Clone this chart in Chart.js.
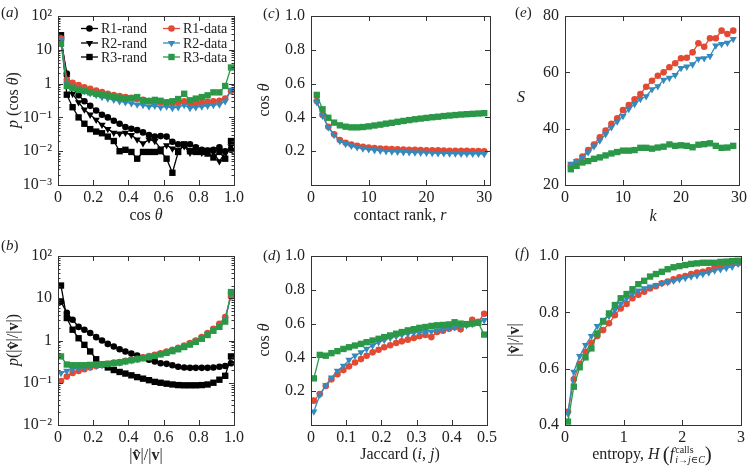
<!DOCTYPE html>
<html>
<head>
<meta charset="utf-8">
<script src="https://cdn.jsdelivr.net/npm/chart.js@4.4.0/dist/chart.umd.min.js"></script>
<style>
body { margin: 0; background: #fff; width: 750px; height: 473px; overflow: hidden; position: relative;
       font-family: "Liberation Serif", "DejaVu Serif", serif; color: #222; }
canvas { position: absolute; }
.lbl { position: absolute; font-size: 16px; white-space: nowrap; transform: translate(-50%, -50%); z-index: 5; }
.rot { transform: translate(-50%, -50%) rotate(-90deg); }
.tag { position: absolute; font-size: 15px; transform: translateY(-50%); z-index: 5; }
.ss { display: inline-flex; flex-direction: column; font-size: 10px; line-height: 10px; vertical-align: middle; margin-left: 1px; }
.big { font-size: 21px; vertical-align: -2px; }
</style>
</head>
<body>
<script>
// ---- data ----
const seriesNames = ['R1-rand', 'R2-rand', 'R3-rand', 'R1-data', 'R2-data', 'R3-data'];

// (a) p(cos theta), 30 bins
const cosBins = [0.017, 0.05, 0.083, 0.117, 0.15, 0.183, 0.217, 0.25, 0.283, 0.317, 0.35, 0.383, 0.417, 0.45, 0.483,
                 0.517, 0.55, 0.583, 0.617, 0.65, 0.683, 0.717, 0.75, 0.783, 0.817, 0.85, 0.883, 0.917, 0.95, 0.983];
const aR1rand = [20, 2.0, 0.75, 0.45, 0.3, 0.22, 0.16, 0.12, 0.1, 0.08, 0.065, 0.052, 0.046, 0.042, 0.036,
                 0.03, 0.027, 0.028, 0.027, 0.019, 0.016, 0.015, 0.016, 0.013, 0.011, 0.0105, 0.011, 0.013, 0.01, 0.011];
const aR2rand = [22, 1.5, 0.5, 0.28, 0.17, 0.12, 0.085, 0.06, 0.045, 0.035, 0.033, 0.035, 0.03, 0.022, 0.017,
                 0.022, 0.02, 0.012, 0.015, 0.012, 0.011, 0.014, 0.009, 0.013, 0.009, 0.011, 0.009, 0.005, 0.009, 0.014];
const aR3rand = [27, 0.47, 0.2, 0.1, 0.065, 0.045, 0.038, 0.034, 0.027, 0.02, 0.01, 0.011, 0.0095, 0.006, 0.0095,
                 0.0095, 0.0095, 0.01, 0.006, 0.0023, 0.0095, 0.016, 0.01, 0.0095, 0.0095, 0.0085, 0.0065, 0.0095, 0.006, 0.02];
const aR1data = [22, 1.3, 1.05, 0.9, 0.78, 0.7, 0.62, 0.56, 0.5, 0.46, 0.43, 0.4, 0.38, 0.35, 0.33,
                 0.31, 0.29, 0.28, 0.27, 0.26, 0.27, 0.3, 0.25, 0.26, 0.27, 0.29, 0.3, 0.31, 0.36, 0.6];
const aR2data = [19, 1.0, 0.8, 0.7, 0.6, 0.52, 0.46, 0.4, 0.36, 0.33, 0.3, 0.28, 0.26, 0.24, 0.23,
                 0.21, 0.22, 0.2, 0.21, 0.19, 0.2, 0.23, 0.19, 0.2, 0.21, 0.22, 0.23, 0.24, 0.3, 0.65];
const aR3data = [15, 0.85, 0.75, 0.65, 0.6, 0.55, 0.5, 0.46, 0.44, 0.4, 0.38, 0.36, 0.37, 0.4, 0.32,
                 0.3, 0.33, 0.31, 0.28, 0.3, 0.35, 0.5, 0.32, 0.36, 0.4, 0.45, 0.55, 0.55, 0.85, 3.0];

// (b) p(|v^|/|v|), same bins
const bR1rand = [8.3, 4.5, 3.1, 2.1, 1.8, 1.5, 1.2, 1.0, 0.83, 0.72, 0.62, 0.55, 0.49, 0.44, 0.39,
                 0.35, 0.32, 0.29, 0.28, 0.26, 0.24, 0.23, 0.225, 0.225, 0.225, 0.225, 0.23, 0.24, 0.25, 0.29];
const bR3rand = [20, 3.4, 1.8, 1.13, 0.79, 0.55, 0.36, 0.27, 0.23, 0.2, 0.18, 0.165, 0.15, 0.136, 0.125,
                 0.115, 0.105, 0.1, 0.095, 0.091, 0.088, 0.087, 0.087, 0.087, 0.088, 0.091, 0.1, 0.118, 0.146, 0.42];
const bR1data = [0.11, 0.14, 0.17, 0.19, 0.21, 0.23, 0.25, 0.265, 0.28, 0.3, 0.31, 0.33, 0.35, 0.37, 0.4,
                 0.43, 0.46, 0.5, 0.55, 0.6, 0.67, 0.76, 0.87, 1.0, 1.2, 1.5, 1.9, 2.5, 3.6, 11];
const bR2data = [0.17, 0.19, 0.21, 0.22, 0.23, 0.24, 0.25, 0.26, 0.28, 0.29, 0.3, 0.32, 0.34, 0.36, 0.39,
                 0.42, 0.45, 0.49, 0.53, 0.59, 0.65, 0.74, 0.84, 0.97, 1.15, 1.4, 1.8, 2.3, 3.2, 12];
const bR3data = [0.42, 0.27, 0.26, 0.26, 0.26, 0.265, 0.27, 0.275, 0.28, 0.29, 0.3, 0.32, 0.34, 0.36, 0.38,
                 0.4, 0.43, 0.47, 0.51, 0.56, 0.62, 0.7, 0.8, 0.93, 1.1, 1.35, 1.7, 2.1, 2.8, 14];

// (c) cos theta vs contact rank
const contactRank = [1, 2, 3, 4, 5, 6, 7, 8, 9, 10, 11, 12, 13, 14, 15, 16, 17, 18, 19, 20, 21, 22, 23, 24, 25, 26, 27, 28, 29, 30];
const cR1data = [0.497, 0.414, 0.345, 0.300, 0.266, 0.250, 0.240, 0.232, 0.226, 0.222, 0.219, 0.216, 0.214, 0.212, 0.211,
                 0.210, 0.209, 0.208, 0.207, 0.206, 0.205, 0.205, 0.204, 0.203, 0.203, 0.202, 0.202, 0.201, 0.201, 0.200];
const cR2data = [0.490, 0.410, 0.340, 0.295, 0.260, 0.243, 0.232, 0.223, 0.216, 0.211, 0.206, 0.203, 0.200, 0.198, 0.196,
                 0.194, 0.193, 0.192, 0.191, 0.190, 0.189, 0.188, 0.187, 0.186, 0.186, 0.185, 0.185, 0.184, 0.184, 0.183];
const cR3data = [0.533, 0.448, 0.398, 0.369, 0.353, 0.345, 0.341, 0.341, 0.343, 0.347, 0.352, 0.357, 0.363, 0.368, 0.374,
                 0.379, 0.384, 0.389, 0.393, 0.397, 0.401, 0.404, 0.408, 0.411, 0.414, 0.417, 0.419, 0.421, 0.423, 0.425];

// (d) cos theta vs Jaccard
const jaccardBins = [0.008, 0.025, 0.042, 0.058, 0.075, 0.092, 0.108, 0.125, 0.142, 0.158, 0.175, 0.192, 0.208, 0.225, 0.242,
                     0.258, 0.275, 0.292, 0.308, 0.325, 0.342, 0.358, 0.375, 0.392, 0.408, 0.425, 0.442, 0.458, 0.475, 0.492];
const dR1data = [0.144, 0.183, 0.231, 0.27, 0.30, 0.325, 0.347, 0.37, 0.39, 0.41, 0.43, 0.445, 0.46, 0.472, 0.485,
                 0.495, 0.505, 0.515, 0.525, 0.533, 0.52, 0.55, 0.558, 0.57, 0.578, 0.566, 0.595, 0.622, 0.61, 0.658];
const dR2data = [0.08, 0.178, 0.235, 0.28, 0.32, 0.35, 0.385, 0.41, 0.43, 0.45, 0.47, 0.49, 0.503, 0.515, 0.525,
                 0.533, 0.54, 0.546, 0.548, 0.55, 0.553, 0.56, 0.565, 0.572, 0.578, 0.585, 0.59, 0.598, 0.608, 0.62];
const dR3data = [0.276, 0.415, 0.41, 0.425, 0.437, 0.45, 0.46, 0.47, 0.48, 0.49, 0.5, 0.51, 0.52, 0.53, 0.54,
                 0.55, 0.56, 0.567, 0.575, 0.58, 0.586, 0.59, 0.592, 0.595, 0.608, 0.6, 0.597, 0.6, 0.605, 0.535];

// (e) S vs k
const kValues = [1, 2, 3, 4, 5, 6, 7, 8, 9, 10, 11, 12, 13, 14, 15, 16, 17, 18, 19, 20, 21, 22, 23, 24, 25, 26, 27, 28, 29];
const eR1data = [27.1, 28.3, 30.1, 32.4, 34.4, 36.9, 39.3, 41.7, 43.7, 46.6, 48.4, 50.4, 52.3, 54.9, 57.0,
                 58.8, 60.0, 61.8, 63.2, 65.0, 65.2, 67.1, 70.3, 69.1, 72.1, 72.1, 74.8, 73.6, 74.8];
const eR2data = [27.5, 28.5, 29.8, 31.6, 33.7, 35.8, 38.0, 40.5, 42.5, 44.5, 47.0, 48.7, 50.5, 51.5, 54.0,
                 55.0, 57.3, 58.0, 59.0, 61.5, 62.0, 62.8, 64.8, 65.0, 65.8, 69.5, 70.0, 70.5, 71.8];
const eR3data = [25.6, 26.8, 28.0, 28.5, 29.3, 29.8, 30.5, 31.2, 31.7, 32.2, 32.2, 32.4, 33.2, 33.2, 32.9,
                 33.3, 33.6, 34.4, 33.9, 34.1, 33.9, 33.4, 34.3, 34.5, 34.8, 33.9, 33.2, 33.3, 33.9];

// (f) |v^|/|v| vs entropy
const entropyBins = [0.05, 0.15, 0.25, 0.35, 0.45, 0.55, 0.65, 0.75, 0.85, 0.95, 1.05, 1.15, 1.25, 1.35, 1.45,
                     1.55, 1.65, 1.75, 1.85, 1.95, 2.05, 2.15, 2.25, 2.35, 2.45, 2.55, 2.65, 2.75, 2.85, 2.95];
const fR1data = [0.447, 0.562, 0.617, 0.66, 0.692, 0.716, 0.737, 0.761, 0.79, 0.814, 0.83, 0.85, 0.862, 0.873, 0.885,
                 0.893, 0.903, 0.909, 0.917, 0.924, 0.929, 0.936, 0.941, 0.944, 0.95, 0.96, 0.962, 0.968, 0.972, 0.974];
const fR2data = [0.441, 0.589, 0.645, 0.684, 0.716, 0.751, 0.773, 0.787, 0.808, 0.83, 0.85, 0.865, 0.877, 0.885, 0.891,
                 0.897, 0.903, 0.907, 0.912, 0.917, 0.922, 0.927, 0.931, 0.936, 0.941, 0.948, 0.953, 0.957, 0.962, 0.972];
const fR3data = [0.412, 0.536, 0.605, 0.64, 0.672, 0.725, 0.767, 0.796, 0.826, 0.85, 0.865, 0.882, 0.9, 0.912, 0.927,
                 0.936, 0.944, 0.953, 0.96, 0.964, 0.968, 0.972, 0.974, 0.976, 0.976, 0.976, 0.979, 0.98, 0.982, 0.983];

// tick values / labels
const logTicksA = [0.001, 0.01, 0.1, 1, 10, 100];
const logLabelsA = ['10\u207B\u00B3', '10\u207B\u00B2', '10\u207B\u00B9', '1', '10', '10\u00B2'];
const logTicksB = [0.01, 0.1, 1, 10, 100];
const logLabelsB = ['10\u207B\u00B2', '10\u207B\u00B9', '1', '10', '10\u00B2'];
const unitTicks = [0, 0.2, 0.4, 0.6, 0.8, 1.0];
const unitLabels = ['0', '0.2', '0.4', '0.6', '0.8', '1.0'];
const cosYTicks = [0.2, 0.4, 0.6, 0.8, 1.0];
const cosYLabels = ['0.2', '0.4', '0.6', '0.8', '1.0'];
const rankTicks = [0, 10, 20, 30];
const jaccardTicks = [0, 0.1, 0.2, 0.3, 0.4, 0.5];
const jaccardLabels = ['0', '0.1', '0.2', '0.3', '0.4', '0.5'];
const sTicks = [20, 40, 60, 80];
const entropyTicks = [0, 1, 2, 3];
const ratioTicks = [0.4, 0.6, 0.8, 1.0];
const ratioLabels = ['0.4', '0.6', '0.8', '1.0'];

// ---- styling ----
const FONT = "'Liberation Serif', 'DejaVu Serif', serif";
Chart.defaults.font.family = FONT;
Chart.defaults.color = '#222';

const STYLE = {
  'R1-rand': { color: '#000000', point: 'circle', rot: 0 },
  'R2-rand': { color: '#000000', point: 'triangle', rot: 180 },
  'R3-rand': { color: '#000000', point: 'rect', rot: 0 },
  'R1-data': { color: '#e24a33', point: 'circle', rot: 0 },
  'R2-data': { color: '#348abd', point: 'triangle', rot: 180 },
  'R3-data': { color: '#2b9848', point: 'rect', rot: 0 }
};

function markerRadius(style) {
  if (style === 'rect') return 4.5;
  if (style === 'triangle') return 4.2;
  return 3.3;
}

function makeSet(name, xs, ys, z) {
  const s = STYLE[name];
  return {
    label: name,
    data: xs.map((x, i) => ({ x: x, y: ys[i] })),
    borderColor: s.color, backgroundColor: s.color, borderWidth: 1.3,
    pointStyle: s.point, pointRotation: s.rot, pointRadius: markerRadius(s.point),
    pointBorderWidth: 0, pointHoverRadius: 0, tension: 0, clip: 0,
    order: 10 - z
  };
}

// box round the axes with inward ticks on all four sides
const framePlugin = {
  id: 'frame',
  afterDatasetsDraw(chart) {
    const ctx = chart.ctx, a = chart.chartArea, xs = chart.scales.x, ys = chart.scales.y;
    ctx.save();
    ctx.strokeStyle = '#333';
    ctx.lineWidth = 1;
    ctx.strokeRect(Math.round(a.left) + 0.5, Math.round(a.top) + 0.5, Math.round(a.right - a.left), Math.round(a.bottom - a.top));
    ctx.beginPath();
    xs.ticks.forEach(t => {
      const p = Math.round(xs.getPixelForValue(t.value)) + 0.5;
      ctx.moveTo(p, a.bottom); ctx.lineTo(p, a.bottom - 5);
      ctx.moveTo(p, a.top); ctx.lineTo(p, a.top + 5);
    });
    ys.ticks.forEach(t => {
      const p = Math.round(ys.getPixelForValue(t.value)) + 0.5;
      ctx.moveTo(a.left, p); ctx.lineTo(a.left + 5, p);
      ctx.moveTo(a.right, p); ctx.lineTo(a.right - 5, p);
    });
    if (ys.type === 'logarithmic') {
      for (let e = Math.floor(Math.log10(ys.min)); e < Math.log10(ys.max); e++) {
        for (let m = 2; m <= 9; m++) {
          const p = Math.round(ys.getPixelForValue(m * Math.pow(10, e))) + 0.5;
          ctx.moveTo(a.left, p); ctx.lineTo(a.left + 2.5, p);
          ctx.moveTo(a.right, p); ctx.lineTo(a.right - 2.5, p);
        }
      }
    }
    ctx.stroke();
    ctx.restore();
  }
};

// two-column legend inside panel (a)
const legendPlugin = {
  id: 'legendA',
  afterDraw(chart) {
    const ctx = chart.ctx, a = chart.chartArea;
    const rowsY = [12.5, 27, 41];
    const cols = [{ x0: 23, x1: 40, tx: 43 }, { x0: 105, x1: 122, tx: 125 }];
    ctx.save();
    ctx.font = '14px ' + FONT;
    ctx.textBaseline = 'middle';
    seriesNames.forEach((name, i) => {
      const s = STYLE[name];
      const col = cols[Math.floor(i / 3)];
      const y = a.top + rowsY[i % 3];
      ctx.strokeStyle = s.color; ctx.fillStyle = s.color; ctx.lineWidth = 1.3;
      ctx.beginPath(); ctx.moveTo(a.left + col.x0, y); ctx.lineTo(a.left + col.x1, y); ctx.stroke();
      Chart.helpers.drawPoint(ctx, { pointStyle: s.point, rotation: s.rot, radius: markerRadius(s.point), borderWidth: 0 },
        a.left + (col.x0 + col.x1) / 2, y);
      ctx.fillStyle = '#222';
      ctx.fillText(name, a.left + col.tx, y + 1);
    });
    ctx.restore();
  }
};

function axis(type, min, max, ticks, labels, fitKey, fitVal) {
  return {
    type: type, min: min, max: max,
    afterBuildTicks: s => { s.ticks = ticks.map(v => ({ value: v })); },
    afterFit: s => { s[fitKey] = fitVal; },
    ticks: {
      autoSkip: false, maxRotation: 0, font: { size: 16 }, color: '#222',
      padding: fitKey === 'width' ? 6 : 3,
      callback: (v, i) => labels[i]
    },
    grid: { display: false, drawTicks: false },
    border: { display: false }
  };
}

function panel(p) {
  const cv = document.createElement('canvas');
  cv.width = p.w; cv.height = p.h;
  cv.style.left = p.left + 'px'; cv.style.top = p.top + 'px';
  document.body.appendChild(cv);
  new Chart(cv, {
    type: 'line',
    data: { datasets: p.sets },
    options: {
      responsive: false, animation: false, devicePixelRatio: 1,
      events: [],
      layout: { padding: { top: p.area[1] - p.top, right: p.left + p.w - p.area[2], left: 0, bottom: 0 } },
      plugins: { legend: { display: false }, tooltip: { enabled: false } },
      scales: {
        x: axis('linear', p.x[0], p.x[1], p.x[2], p.x[3], 'height', p.top + p.h - p.area[3]),
        y: axis(p.y[4] || 'linear', p.y[0], p.y[1], p.y[2], p.y[3], 'width', p.area[0] - p.left)
      }
    },
    plugins: [framePlugin].concat(p.extra || [])
  });
}

panel({
  left: 0, top: 0, w: 250, h: 236, area: [58, 16, 234, 185],
  x: [0, 1, unitTicks, unitLabels], y: [0.001, 100, logTicksA, logLabelsA, 'logarithmic'],
  sets: [
    makeSet('R1-rand', cosBins, aR1rand, 0), makeSet('R2-rand', cosBins, aR2rand, 1), makeSet('R3-rand', cosBins, aR3rand, 2),
    makeSet('R1-data', cosBins, aR1data, 3), makeSet('R2-data', cosBins, aR2data, 4), makeSet('R3-data', cosBins, aR3data, 5)
  ],
  extra: [legendPlugin]
});
panel({
  left: 0, top: 236, w: 250, h: 237, area: [58, 256, 234, 425],
  x: [0, 1, unitTicks, unitLabels], y: [0.01, 100, logTicksB, logLabelsB, 'logarithmic'],
  sets: [
    makeSet('R1-rand', cosBins, bR1rand, 0), makeSet('R3-rand', cosBins, bR3rand, 2),
    makeSet('R1-data', cosBins, bR1data, 3), makeSet('R2-data', cosBins, bR2data, 4), makeSet('R3-data', cosBins, bR3data, 5)
  ]
});
panel({
  left: 250, top: 0, w: 250, h: 236, area: [311, 16, 490, 185],
  x: [0, 31, rankTicks, rankTicks.map(String)], y: [0, 1, cosYTicks, cosYLabels],
  sets: [makeSet('R1-data', contactRank, cR1data, 3), makeSet('R2-data', contactRank, cR2data, 4), makeSet('R3-data', contactRank, cR3data, 5)]
});
panel({
  left: 250, top: 236, w: 250, h: 237, area: [311, 256, 490, 425],
  x: [0, 0.5, jaccardTicks, jaccardLabels], y: [0, 1, cosYTicks, cosYLabels],
  sets: [makeSet('R1-data', jaccardBins, dR1data, 3), makeSet('R2-data', jaccardBins, dR2data, 4), makeSet('R3-data', jaccardBins, dR3data, 5)]
});
panel({
  left: 500, top: 0, w: 250, h: 236, area: [565, 16, 741, 185],
  x: [0, 30, rankTicks, rankTicks.map(String)], y: [20, 80, sTicks, sTicks.map(String)],
  sets: [makeSet('R1-data', kValues, eR1data, 3), makeSet('R2-data', kValues, eR2data, 4), makeSet('R3-data', kValues, eR3data, 5)]
});
panel({
  left: 500, top: 236, w: 250, h: 237, area: [565, 256, 741, 425],
  x: [0, 3, entropyTicks, entropyTicks.map(String)], y: [0.4, 1.0, ratioTicks, ratioLabels],
  sets: [makeSet('R1-data', entropyBins, fR1data, 3), makeSet('R2-data', entropyBins, fR2data, 4), makeSet('R3-data', entropyBins, fR3data, 5)]
});

// ---- panel tags and axis titles ----
function text(cls, html, x, y) {
  const d = document.createElement('div');
  d.className = cls;
  d.innerHTML = html;
  d.style.left = x + 'px';
  d.style.top = y + 'px';
  document.body.appendChild(d);
}
const vRatio = '|<b>v\u0302</b>|/|<b>v</b>|';
text('tag', '(<i>a</i>)', 1, 12);
text('tag', '(<i>c</i>)', 263, 13);
text('tag', '(<i>e</i>)', 515, 12);
text('tag', '(<i>b</i>)', 1, 245);
text('tag', '(<i>d</i>)', 263, 255);
text('tag', '(<i>f</i>)', 515, 253);

text('lbl', 'cos <i>\u03B8</i>', 146, 215);
text('lbl rot', '<i>p</i> (cos <i>\u03B8</i>)', 13, 100);
text('lbl', vRatio, 146, 455);
text('lbl rot', '<i>p</i>(' + vRatio + ')', 13, 340);
text('lbl', 'contact rank, <i>r</i>', 400, 215);
text('lbl rot', 'cos <i>\u03B8</i>', 264, 100);
text('lbl', 'Jaccard (<i>i</i>, <i>j</i>)', 400, 454);
text('lbl rot', 'cos <i>\u03B8</i>', 264, 340);
text('lbl', '<i>k</i>', 653, 216);
text('lbl', '<i>S</i>', 521, 97);
text('lbl', 'entropy, <i>H</i>&thinsp;<span class="big">(</span><i>f</i><span class="ss"><span>calls</span><span><i>i</i>\u2192<i>j</i>\u2208<i>C</i></span></span><span class="big">)</span>', 652, 454);
text('lbl rot', vRatio, 514, 340);
</script>
</body>
</html>
